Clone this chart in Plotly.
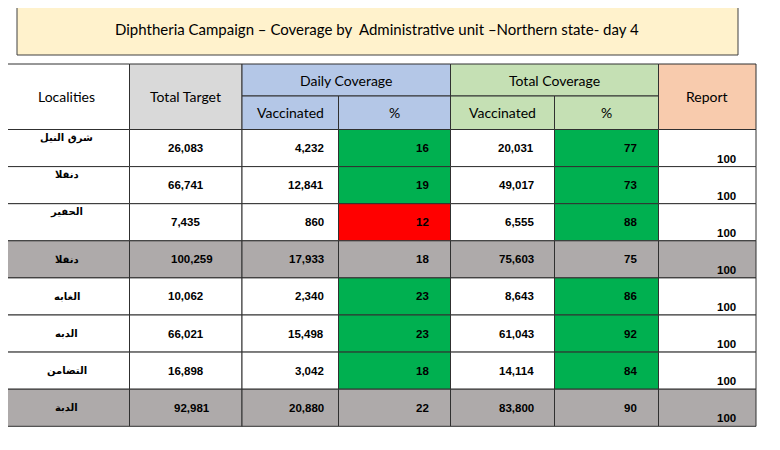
import plotly.graph_objects as go

title = "Diphtheria Campaign \u2013 Coverage by  Administrative unit \u2013Northern state- day 4"
localities = ["شرق النيل", "دنقلا", "الحفير", "دنقلا", "الغابه", "الدبه", "التضامن", "الدبة"]
total_target = [26083, 66741, 7435, 100259, 10062, 66021, 16898, 92981]
daily_vacc = [4232, 12841, 860, 17933, 2340, 15498, 3042, 20880]
daily_pct = [16, 19, 12, 18, 23, 23, 18, 22]
total_vacc = [20031, 49017, 6555, 75603, 8643, 61043, 14114, 83800]
total_pct = [77, 73, 88, 75, 86, 92, 84, 90]
report = [100, 100, 100, 100, 100, 100, 100, 100]
is_subtotal = [False, False, False, True, False, False, False, True]

# layout of the grid (pixel-like axis units)
col_edges = [4, 129.5, 242, 338.5, 450.5, 554.5, 658.5, 756]
head_top, head_mid, head_bot = 64, 96, 129.5
row_h = 37.1
name_top = [True, True, True, False, False, False, False, False]
page_pad = 8  # html body margin

GREEN = "#00B050"
RED = "#FF0000"
GREY = "#AEAAAA"
LINE = "#303030"

fig = go.Figure()
shapes = []
ann = []


def rect(x0, y0, x1, y1, fill):
    shapes.append(dict(type="rect", xref="x", yref="y", x0=x0, x1=x1, y0=y0, y1=y1,
                       fillcolor=fill, line=dict(color=LINE, width=1), layer="below"))


def txt(x, y, s, size, family, xanchor="center", color="#000000"):
    ann.append(dict(x=x, y=y, xref="x", yref="y", text=s, showarrow=False,
                    xanchor=xanchor, yanchor="middle",
                    font=dict(size=size, family=family, color=color)))


HEAD_FONT = "Lato, Open Sans, sans-serif"
NUM_FONT = "Liberation Sans, Arial, sans-serif"
AR_FONT = "DejaVu Sans, Noto Sans, sans-serif"

# title box
shapes.append(dict(type="rect", xref="x", yref="y", x0=17, x1=738, y0=5, y1=55,
                   fillcolor="#FFF2CC", line=dict(color="#404040", width=1), layer="below"))
txt(377, 29, title, 15, HEAD_FONT)

# header
c = col_edges
rect(c[0], head_top, c[1], head_bot, "#FFFFFF")
rect(c[1], head_top, c[2], head_bot, "#D9D9D9")
rect(c[2], head_top, c[4], head_mid, "#B4C7E7")
rect(c[2], head_mid, c[3], head_bot, "#B4C7E7")
rect(c[3], head_mid, c[4], head_bot, "#B4C7E7")
rect(c[4], head_top, c[6], head_mid, "#C5E0B4")
rect(c[4], head_mid, c[5], head_bot, "#C5E0B4")
rect(c[5], head_mid, c[6], head_bot, "#C5E0B4")
rect(c[6], head_top, c[7], head_bot, "#F8CBAD")

hmid = (head_top + head_bot) / 2
txt((c[0] + c[1]) / 2, hmid, "Localities", 14, HEAD_FONT)
txt((c[1] + c[2]) / 2, hmid, "Total Target", 14, HEAD_FONT)
txt((c[2] + c[4]) / 2, (head_top + head_mid) / 2, "Daily Coverage", 14, HEAD_FONT)
txt((c[2] + c[3]) / 2, (head_mid + head_bot) / 2, "Vaccinated", 14, HEAD_FONT)
txt((c[3] + c[4]) / 2, (head_mid + head_bot) / 2, "%", 14, HEAD_FONT)
txt((c[4] + c[6]) / 2, (head_top + head_mid) / 2, "Total Coverage", 14, HEAD_FONT)
txt((c[4] + c[5]) / 2, (head_mid + head_bot) / 2, "Vaccinated", 14, HEAD_FONT)
txt((c[5] + c[6]) / 2, (head_mid + head_bot) / 2, "%", 14, HEAD_FONT)
txt((c[6] + c[7]) / 2, hmid, "Report", 14, HEAD_FONT)


def pct_fill(v, limit, sub):
    if sub:
        return GREY
    return GREEN if v >= limit else RED


# body rows
for i in range(len(localities)):
    y0 = head_bot + i * row_h
    y1 = y0 + row_h
    ym = (y0 + y1) / 2
    sub = is_subtotal[i]
    base = GREY if sub else "#FFFFFF"
    fills = [base, base, base, pct_fill(daily_pct[i], 15, sub), base,
             pct_fill(total_pct[i], 15, sub), base]
    for j in range(7):
        rect(c[j], y0, c[j + 1], y1, fills[j])

    ny = y0 + 8 if name_top[i] else ym
    txt((c[0] + c[1]) / 2, ny, "<b>" + localities[i] + "</b>", 10, AR_FONT)
    txt((c[1] + c[2]) / 2 + (6 if sub else 0), ym, "<b>{:,}</b>".format(total_target[i]), 11.5, NUM_FONT)
    txt(c[3] - 13, ym, "<b>{:,}</b>".format(daily_vacc[i]), 11.5, NUM_FONT, "right")
    txt(c[4] - 20, ym, "<b>{}</b>".format(daily_pct[i]), 11.5, NUM_FONT, "right")
    txt(c[5] - 19, ym, "<b>{:,}</b>".format(total_vacc[i]), 11.5, NUM_FONT, "right")
    txt(c[6] - 20, ym, "<b>{}</b>".format(total_pct[i]), 11.5, NUM_FONT, "right")
    txt(c[7] - 18, y1 - 8, "<b>{}</b>".format(report[i]), 11.5, NUM_FONT, "right")

fig.add_trace(go.Scatter(x=[0, 780], y=[0, 450], mode="markers",
                         marker=dict(opacity=0), hoverinfo="skip", showlegend=False))

fig.update_layout(
    width=780, height=450,
    margin=dict(l=0, r=0, t=0, b=0),
    paper_bgcolor="white", plot_bgcolor="white",
    xaxis=dict(range=[page_pad, 780 + page_pad], visible=False, fixedrange=True),
    yaxis=dict(range=[450 + page_pad, page_pad], visible=False, fixedrange=True),
    shapes=shapes, annotations=ann,
)

fig.write_html("out.html")
